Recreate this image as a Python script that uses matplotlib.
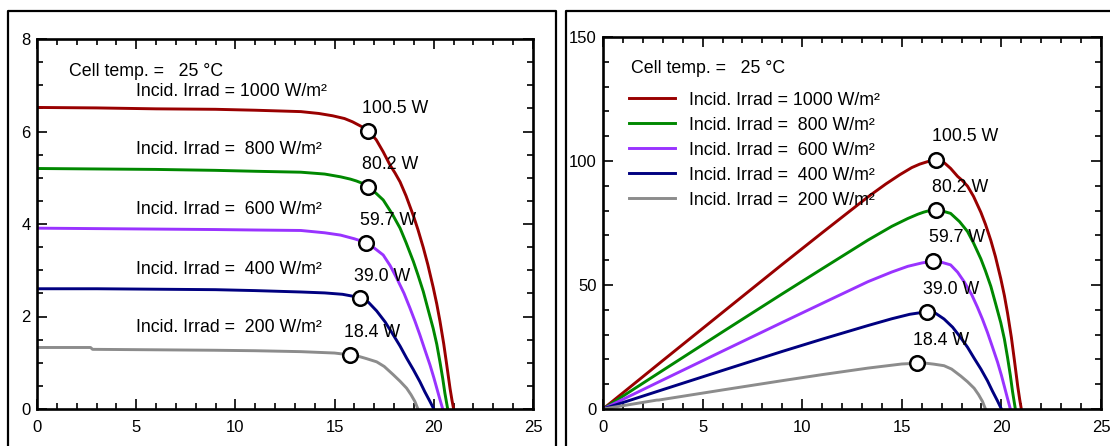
import matplotlib.pyplot as plt
from matplotlib.lines import Line2D

plt.rcParams["font.family"] = ["Liberation Sans", "DejaVu Sans"]

# irradiance levels (W/m2) and colours of the curves
irradiance = [1000, 800, 600, 400, 200]
colors = ["#990000", "#008800", "#9933ff", "#000080", "#8c8c8c"]

# I-V curves (voltage V, current A)
volt_1000 = [0, 3, 6, 9, 11, 13.3, 14.2, 14.9, 15.5, 15.9, 16.3, 16.7, 17.1, 17.45, 17.8, 18.05, 18.3,
             18.6, 18.97, 19.2, 19.47, 19.7, 19.97, 20.15, 20.31, 20.5, 20.65, 20.82, 20.92, 21.0]
amps_1000 = [6.52, 6.51, 6.49, 6.48, 6.46, 6.43, 6.39, 6.34, 6.28, 6.21, 6.12, 6.02, 5.82, 5.56, 5.27, 5.10, 4.91,
             4.61, 4.18, 3.88, 3.49, 3.12, 2.63, 2.27, 1.90, 1.41, 0.96, 0.44, 0.18, 0.0]

volt_800 = [0, 3, 6, 9, 11, 13.3, 14.5, 15.3, 15.8, 16.1, 16.4, 16.7, 17.1, 17.45, 17.9, 18.3, 18.6,
            18.97, 19.2, 19.47, 19.7, 19.97, 20.15, 20.31, 20.45, 20.56, 20.7]
amps_800 = [5.20, 5.19, 5.18, 5.16, 5.14, 5.12, 5.08, 5.02, 4.97, 4.93, 4.88, 4.81, 4.66, 4.52, 4.22, 3.91, 3.60,
            3.19, 2.90, 2.54, 2.17, 1.74, 1.40, 1.02, 0.66, 0.34, 0.0]

volt_600 = [0, 3, 6, 9, 11, 13.3, 14.5, 15.3, 16.0, 16.57, 17.0, 17.45, 17.8, 18.13, 18.5, 18.8,
            19.05, 19.3, 19.55, 19.81, 20.0, 20.15, 20.3, 20.45]
amps_600 = [3.91, 3.90, 3.89, 3.88, 3.87, 3.86, 3.81, 3.76, 3.68, 3.60, 3.48, 3.33, 3.10, 2.83, 2.50, 2.18,
            1.90, 1.60, 1.28, 0.95, 0.68, 0.45, 0.22, 0.0]

volt_400 = [0, 3, 6, 9, 11, 13.3, 14.5, 15.4, 15.9, 16.28, 16.7, 17.12, 17.55, 17.96, 18.3, 18.63,
            18.97, 19.3, 19.55, 19.81, 20.0]
amps_400 = [2.60, 2.60, 2.59, 2.58, 2.56, 2.53, 2.51, 2.48, 2.44, 2.39, 2.31, 2.12, 1.88, 1.60, 1.36, 1.10,
            0.85, 0.59, 0.37, 0.16, 0.0]

volt_200 = [0, 2.7, 2.8, 6, 9, 11, 13.3, 15.0, 15.78, 16.2, 16.6, 17.12, 17.5, 17.96, 18.3, 18.63,
            18.85, 19.05, 19.2]
amps_200 = [1.33, 1.33, 1.29, 1.28, 1.27, 1.26, 1.24, 1.21, 1.17, 1.14, 1.09, 1.02, 0.92, 0.74, 0.60, 0.45,
            0.31, 0.16, 0.0]

# maximum power points
mpp_volt = [16.7, 16.7, 16.57, 16.28, 15.78]
mpp_amps = [6.02, 4.81, 3.60, 2.39, 1.17]
mpp_power = [100.5, 80.2, 59.7, 39.0, 18.4]

cell_temp = 25

W, H, DPI = 1110, 446, 100

curves = [
    (volt_1000, amps_1000),
    (volt_800, amps_800),
    (volt_600, amps_600),
    (volt_400, amps_400),
    (volt_200, amps_200),
]


def px_axes(fig, x0, x1, y0, y1):
    # axes box given in image pixels (top-left origin)
    return fig.add_axes([x0 / W, 1 - y1 / H, (x1 - x0) / W, (y1 - y0) / H])


def style_axes(ax, ymax, ymajor, yminor):
    ax.set_xlim(0, 25)
    ax.set_ylim(0, ymax)
    ax.set_xticks(range(0, 26, 5))
    ax.set_xticks(range(0, 26), minor=True)
    ax.set_yticks([i * ymajor for i in range(int(ymax / ymajor) + 1)])
    ax.set_yticks([i * yminor for i in range(int(ymax / yminor) + 1)], minor=True)
    for s in ax.spines.values():
        s.set_linewidth(1.9)
    ax.tick_params(which="both", direction="in", top=True, right=True, width=1.2)
    ax.tick_params(which="major", length=7.5, labelsize=12)
    ax.tick_params(which="minor", length=4.5)
    ax.tick_params(axis="x", pad=8)
    ax.tick_params(axis="y", pad=4.5)


def label_text(irr):
    return f"Incid. Irrad = {irr:>4} W/m²"


fig = plt.figure(figsize=(W / DPI, H / DPI), dpi=DPI)

# panel frames
border = dict(color="black", linewidth=1.6, transform=fig.transFigure)
fig.add_artist(Line2D([7.5 / W, 7.5 / W, 556 / W, 556 / W], [0, 1 - 10.5 / H, 1 - 10.5 / H, 0], **border))
fig.add_artist(Line2D([566 / W, 566 / W, 1], [0, 1 - 10.5 / H, 1 - 10.5 / H], **border))

# ---- left: current vs voltage
ax1 = px_axes(fig, 37, 533, 39, 409)
style_axes(ax1, 8, 2, 0.5)

label_y = [0.859, 0.700, 0.538, 0.376, 0.219]
for (v, i), c, irr, ly in zip(curves, colors, irradiance, label_y):
    ax1.plot(v, i, color=c, linewidth=2.1)
    ax1.text(0.1996, ly, label_text(irr), transform=ax1.transAxes,
             fontsize=12.8, va="center", ha="left")

ax1.plot(mpp_volt, mpp_amps, linestyle="none", marker="o", markersize=10.5,
         markerfacecolor="white", markeredgecolor="black", markeredgewidth=1.8, zorder=5)
for v, i, p in zip(mpp_volt, mpp_amps, mpp_power):
    ax1.annotate(f"{p:.1f} W", (v, i), xytext=(-6, 22), textcoords="offset pixels",
                 fontsize=12.8, va="center", ha="left")

ax1.text(0.0645, 0.912, f"Cell temp. =   {cell_temp} °C", transform=ax1.transAxes,
         fontsize=12.8, va="center", ha="left")

# ---- right: power vs voltage
ax2 = px_axes(fig, 603, 1101, 37, 409)
style_axes(ax2, 150, 50, 10)

for (v, i), c, irr in zip(curves, colors, irradiance):
    power = [a * b for a, b in zip(v, i)]
    ax2.plot(v, power, color=c, linewidth=2.1, label=label_text(irr))

ax2.plot(mpp_volt, mpp_power, linestyle="none", marker="o", markersize=10.5,
         markerfacecolor="white", markeredgecolor="black", markeredgewidth=1.8, zorder=5)
for v, p in zip(mpp_volt, mpp_power):
    ax2.annotate(f"{p:.1f} W", (v, p), xytext=(-4, 23), textcoords="offset pixels",
                 fontsize=12.8, va="center", ha="left")

ax2.text(0.056, 0.914, f"Cell temp. =   {cell_temp} °C", transform=ax2.transAxes,
         fontsize=12.8, va="center", ha="left")

ax2.legend(loc="upper left", bbox_to_anchor=(0.0522, 0.853), frameon=False,
           fontsize=12.8, borderpad=0, borderaxespad=0, handlelength=2.58,
           handletextpad=0.79, labelspacing=0.45)

fig.savefig("out.png", dpi=DPI)
